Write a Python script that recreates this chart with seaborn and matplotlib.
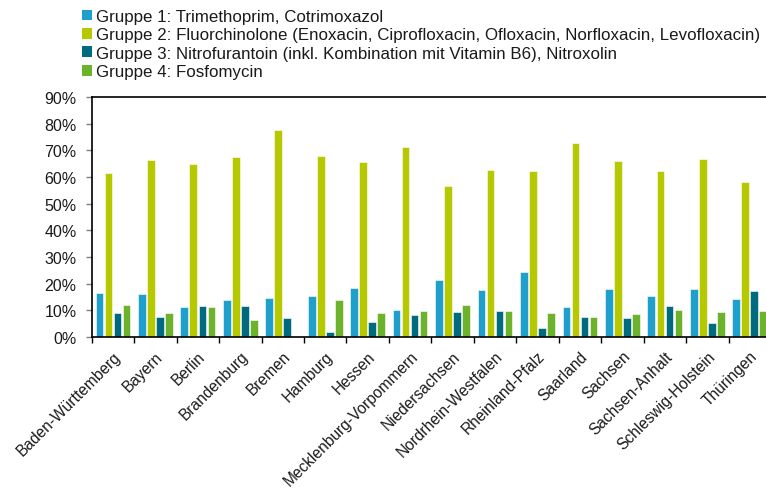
import numpy as np
import pandas as pd
import matplotlib
matplotlib.use('Agg')
import matplotlib.pyplot as plt
import seaborn as sns
from matplotlib.patches import Patch
from matplotlib.ticker import FixedLocator, FuncFormatter


laender = ['Baden-Württemberg', 'Bayern', 'Berlin', 'Brandenburg', 'Bremen',
           'Hamburg', 'Hessen', 'Mecklenburg-Vorpommern', 'Niedersachsen',
           'Nordrhein-Westfalen', 'Rheinland-Pfalz', 'Saarland', 'Sachsen',
           'Sachsen-Anhalt', 'Schleswig-Holstein', 'Thüringen']

gruppe1 = [16.4, 16.1, 11.3, 13.9, 14.6, 15.5, 18.5, 10.0, 21.5, 17.5, 24.3, 11.4, 17.9, 15.4, 18.1, 14.1]
gruppe2 = [61.5, 66.3, 64.9, 67.4, 77.5, 67.8, 65.6, 71.1, 56.5, 62.5, 62.4, 72.9, 65.9, 62.4, 66.6, 58.0]
gruppe3 = [9.1, 7.6, 11.8, 11.6, 7.3, 2.0, 5.8, 8.4, 9.5, 9.6, 3.5, 7.5, 7.0, 11.5, 5.1, 17.3]
gruppe4 = [12.1, 9.0, 11.3, 6.5, 0.0, 14.0, 9.1, 9.6, 11.9, 9.6, 9.1, 7.5, 8.5, 10.0, 9.3, 9.9]

gruppen = ['Gruppe 1: Trimethoprim, Cotrimoxazol',
           'Gruppe 2: Fluorchinolone (Enoxacin, Ciprofloxacin, Ofloxacin, Norfloxacin, Levofloxacin)',
           'Gruppe 3: Nitrofurantoin (inkl. Kombination mit Vitamin B6), Nitroxolin',
           'Gruppe 4: Fosfomycin']
farben = ['#1f9fcc', '#b5c800', '#006b7f', '#6cb22a']

y_ticks = [0, 10, 20, 30, 40, 50, 60, 70, 80, 90]

df = pd.DataFrame({
    'Land': laender * 4,
    'Gruppe': [g for g in gruppen for _ in laender],
    'Anteil': gruppe1 + gruppe2 + gruppe3 + gruppe4,
})

sns.set_style('white')
plt.rcParams['font.family'] = ['Liberation Sans', 'DejaVu Sans']

fig = plt.figure(figsize=(7.66, 4.89), dpi=100)
ax = fig.add_axes([91.7 / 766, 151 / 489, 679.3 / 766, 240 / 489])

sns.barplot(data=df, x='Land', y='Anteil', hue='Gruppe', order=laender,
            hue_order=gruppen, palette=farben, saturation=1, width=0.85, gap=0.15,
            edgecolor='white', linewidth=0.4, ax=ax, legend=False)

ax.set_xlim(-0.5, len(laender) - 0.5)
ax.set_ylim(0, 90)
ax.set_yticks(y_ticks)
ax.yaxis.set_major_formatter(FuncFormatter(lambda v, _: f'{v:.0f}%'))
ax.set_xlabel('')
ax.set_ylabel('')

ax.set_xticks(range(len(laender)))
ax.set_xticklabels(laender, rotation=45, ha='right', rotation_mode='anchor')
ax.xaxis.set_minor_locator(FixedLocator(np.arange(-0.5, len(laender), 1)))
ax.tick_params(axis='x', which='major', length=0, pad=8, labelsize=11.2, labelcolor='#1a1a1a')
ax.tick_params(axis='x', which='minor', bottom=True, length=4, width=1, color='black')
ax.tick_params(axis='y', left=True, length=4, width=1, color='#808080', pad=7,
               labelsize=11.5, labelcolor='#1a1a1a')

for side in ['left', 'bottom', 'top']:
    ax.spines[side].set_color('black')
    ax.spines[side].set_linewidth(1.2)
ax.spines['right'].set_visible(False)

handles = [Patch(facecolor=c, edgecolor='none') for c in farben]
fig.legend(handles, gruppen, loc='upper left', bbox_to_anchor=(82 / 766, 1 - 10 / 489),
           frameon=False, fontsize=12.2, labelcolor='#1a1a1a', handlelength=0.6,
           handleheight=0.6, handletextpad=0.25, labelspacing=0.2,
           borderaxespad=0, borderpad=0)

fig.savefig('out.png', dpi=100)
